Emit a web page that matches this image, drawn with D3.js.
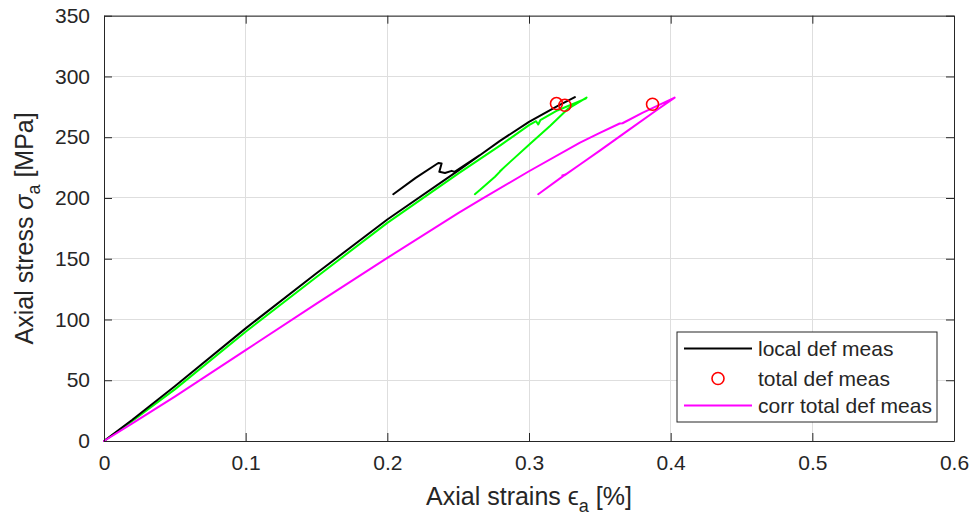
<!DOCTYPE html>
<html><head><meta charset="utf-8">
<script src="https://cdn.jsdelivr.net/npm/d3@7"></script>
<style>body{margin:0;background:#fff}svg{display:block;font-family:"Liberation Sans",Arial,sans-serif}</style>
</head><body><svg id="c" width="976" height="524"></svg>
<script>
// ---- data ----
const xTicks = [0, 0.1, 0.2, 0.3, 0.4, 0.5, 0.6];
const xTickLabels = ["0", "0.1", "0.2", "0.3", "0.4", "0.5", "0.6"];
const yTicks = [0, 50, 100, 150, 200, 250, 300, 350];
const yTickLabels = ["0", "50", "100", "150", "200", "250", "300", "350"];

const localStrain = [0, 0.02, 0.05, 0.1, 0.15, 0.2, 0.25, 0.2653, 0.2795, 0.3, 0.32, 0.3324, 0.32, 0.3, 0.2795, 0.2653, 0.2475, 0.2454, 0.2407, 0.2367, 0.2383, 0.236, 0.22, 0.2042];
const localStress = [0, 17.5, 45, 92.7, 138, 182.3, 222.5, 235.2, 247, 262.6, 275.5, 283, 275.5, 262.6, 247, 235.2, 221.5, 222.3, 220.6, 221.5, 228.3, 228.8, 216.5, 203.1];

const totalStrain = [0, 0.02, 0.05, 0.1, 0.15, 0.2, 0.25, 0.28, 0.3, 0.305, 0.3065, 0.308, 0.32, 0.34, 0.3406, 0.3277, 0.315, 0.3006, 0.2865, 0.2795, 0.281, 0.276, 0.2653, 0.2618];
const totalStress = [0, 16.5, 42.5, 89.9, 135, 179.5, 220, 243.5, 259.9, 263.2, 260.5, 264, 272, 281.8, 282.6, 273.6, 259.5, 244.5, 229.5, 222, 223.5, 217.5, 206.5, 203.1];

const corrStrain = [0, 0.02, 0.05, 0.1, 0.15, 0.2, 0.25, 0.2653, 0.3, 0.336, 0.35, 0.364, 0.366, 0.38, 0.4028, 0.39, 0.37, 0.35, 0.336, 0.325, 0.3235, 0.3255, 0.3065];
const corrStress = [0, 14.5, 36.5, 74.8, 113, 150.7, 187.5, 198.2, 222, 245.5, 253.5, 261.3, 261.5, 270, 282.6, 272.2, 255.6, 239, 227.5, 218.6, 218.5, 219.2, 203.1];

const markStrain = [0.3194, 0.3253, 0.3872];
const markStress = [277.7, 276.3, 277.1];

const legendLabels = ["local def meas", "total def meas", "corr total def meas"];

// ---- chart ----
const svg = d3.select("#c");
const L = 104, R = 954, T = 15.7, B = 441;
const x = d3.scaleLinear().domain([0, 0.6]).range([L, R]);
const y = d3.scaleLinear().domain([0, 350]).range([B, T]);
const axCol = "#262626";

// grid
const g = svg.append("g");
g.selectAll(".gx").data(xTicks).join("line")
  .attr("x1", d => x(d)).attr("x2", d => x(d)).attr("y1", T).attr("y2", B)
  .attr("stroke", "#dedede").attr("stroke-width", 1).attr("shape-rendering", "crispEdges");
g.selectAll(".gy").data(yTicks).join("line")
  .attr("y1", d => y(d)).attr("y2", d => y(d)).attr("x1", L).attr("x2", R)
  .attr("stroke", "#dedede").attr("stroke-width", 1).attr("shape-rendering", "crispEdges");

// data lines
const line = d3.line().x(d => x(d[0])).y(d => y(d[1]));
function drawSeries(xs, ys, col) {
  svg.append("path").datum(xs.map((v, i) => [v, ys[i]]))
    .attr("d", line).attr("fill", "none").attr("stroke", col)
    .attr("stroke-width", 2).attr("stroke-linejoin", "round").attr("stroke-linecap", "round");
}
drawSeries(totalStrain, totalStress, "#00ff00");
drawSeries(localStrain, localStress, "#000000");
drawSeries(corrStrain, corrStress, "#ff00ff");

svg.selectAll(".mk").data(markStrain.map((v, i) => [v, markStress[i]])).join("circle")
  .attr("cx", d => x(d[0])).attr("cy", d => y(d[1])).attr("r", 6)
  .attr("fill", "none").attr("stroke", "#ff0000").attr("stroke-width", 1.6);

// axes (box with ticks inside)
const axB = d3.axisBottom(x).tickValues(xTicks).tickFormat((d, i) => xTickLabels[i]).tickSizeInner(-8).tickSizeOuter(0).tickPadding(14);
const axL = d3.axisLeft(y).tickValues(yTicks).tickFormat((d, i) => yTickLabels[i]).tickSizeInner(-8).tickSizeOuter(0).tickPadding(14);
const axT = d3.axisTop(x).tickValues(xTicks).tickFormat("").tickSizeInner(-8).tickSizeOuter(0);
const axR = d3.axisRight(y).tickValues(yTicks).tickFormat("").tickSizeInner(-8).tickSizeOuter(0);
function styleAx(sel) {
  sel.select(".domain").attr("stroke", axCol);
  sel.selectAll(".tick line").attr("stroke", axCol);
  sel.selectAll("text").attr("fill", axCol).style("font-size", "21px").style("font-family", "'Liberation Sans',Arial,sans-serif");
}
styleAx(svg.append("g").attr("transform", `translate(0,${B})`).call(axB));
styleAx(svg.append("g").attr("transform", `translate(${L},0)`).call(axL));
styleAx(svg.append("g").attr("transform", `translate(0,${T})`).call(axT));
styleAx(svg.append("g").attr("transform", `translate(${R},0)`).call(axR));

// axis labels
const xl = svg.append("text").attr("x", (L + R) / 2).attr("y", 505).attr("text-anchor", "middle")
  .attr("fill", axCol).style("font-size", "25px");
xl.append("tspan").text("Axial strains ϵ");
xl.append("tspan").attr("dy", 7).style("font-size", "18px").text("a");
xl.append("tspan").attr("dy", -7).text(" [%]");

const yl = svg.append("text").attr("transform", `translate(33,${(T + B) / 2}) rotate(-90)`).attr("text-anchor", "middle")
  .attr("fill", axCol).style("font-size", "25px");
yl.append("tspan").text("Axial stress ");
yl.append("tspan").style("font-style", "italic").text("σ");
yl.append("tspan").attr("dy", 7).style("font-size", "18px").text("a");
yl.append("tspan").attr("dy", -7).text(" [MPa]");

// legend
const lg = svg.append("g");
lg.append("rect").attr("x", 677).attr("y", 332).attr("width", 260).attr("height", 90)
  .attr("fill", "#fff").attr("stroke", axCol).attr("stroke-width", 1);
const rowsY = [348.5, 378.5, 405.5];
lg.append("line").attr("x1", 684).attr("x2", 752).attr("y1", rowsY[0]).attr("y2", rowsY[0]).attr("stroke", "#000").attr("stroke-width", 2);
lg.append("circle").attr("cx", 718).attr("cy", rowsY[1]).attr("r", 6).attr("fill", "none").attr("stroke", "#ff0000").attr("stroke-width", 1.6);
lg.append("line").attr("x1", 684).attr("x2", 752).attr("y1", rowsY[2]).attr("y2", rowsY[2]).attr("stroke", "#ff00ff").attr("stroke-width", 2);
lg.selectAll(".lt").data(legendLabels).join("text")
  .attr("x", 758).attr("y", (d, i) => rowsY[i] + 7).attr("fill", axCol)
  .style("font-size", "21px").text(d => d);
</script></body></html>
